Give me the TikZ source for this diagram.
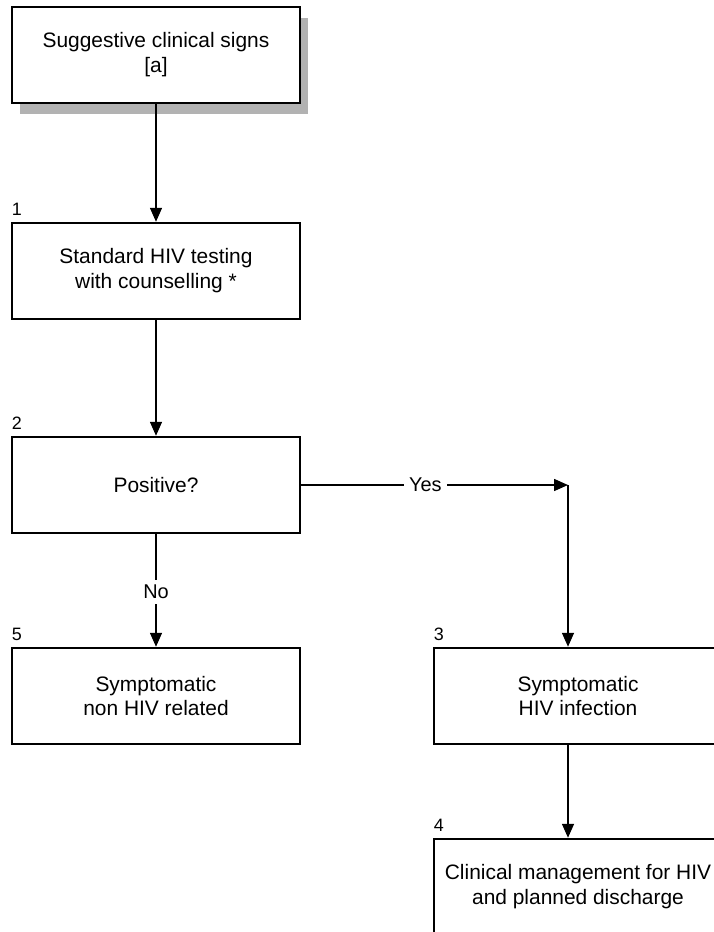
\documentclass[tikz,border=0pt]{standalone}
\usepackage{fontspec}
\setmainfont{Liberation Sans}
\usetikzlibrary{positioning, arrows.meta, shadows}
\tikzset{
    stepbox/.style={rectangle, draw=black, line width=2.5bp, fill=white, align=center, minimum width=288bp, minimum height=96bp, font=\fontsize{21}{25}\selectfont},
    arrow/.style={-{Triangle[length=14bp, width=12bp]}, line width=1.5bp},
    num/.style={anchor=south west, inner sep=0pt, font=\fontsize{18}{21}\selectfont},
    answer/.style={fill=white, inner sep=5bp, font=\fontsize{20}{24}\selectfont}
}
\begin{document}
\begin{tikzpicture}[x=1bp, y=-1bp]
        \useasboundingbox (0,0) rectangle (714,932);
        \clip (0,0) rectangle (714,932);

        % Entry point
        \node[stepbox, drop shadow={fill=black!30, opacity=1, shadow xshift=8bp, shadow yshift=-11bp}] (signs) at (156,55) {Suggestive clinical signs\\{[a]}};

        % Testing and decision
        \node[stepbox, below=117.5bp of signs] (test) {Standard HIV testing\\with counselling *};
        \node[stepbox, below=115.5bp of test] (pos) {Positive?};

        % Outcomes
        \node[stepbox, below=112.5bp of pos] (neg) {Symptomatic\\non HIV related};
        \node[stepbox, right=131.5bp of neg] (hiv) {Symptomatic\\HIV infection};
        \node[stepbox, below=92.5bp of hiv] (manage) {Clinical management for HIV\\and planned discharge};

        % Step numbers
        \node[num] (n1) at ([xshift=1bp, yshift=6bp]test.north west) {1};
        \node[num] (n2) at ([xshift=1bp, yshift=6bp]pos.north west) {2};
        \node[num] (n5) at ([xshift=1bp, yshift=6bp]neg.north west) {5};
        \node[num] (n3) at ([xshift=1bp, yshift=6bp]hiv.north west) {3};
        \node[num] (n4) at ([xshift=1bp, yshift=6bp]manage.north west) {4};

        % Connectors
        \draw[arrow] (signs) -- (test);
        \draw[arrow] (test) -- (pos);
        \draw[arrow] (pos) -- node[answer, pos=0.51] {No} (neg);
        \coordinate (turn) at ([xshift=-10bp]hiv.north |- pos.east);
        \draw[arrow] (pos) -- node[answer, pos=0.465] {Yes} (turn);
        \draw[arrow] (turn) -- (turn |- hiv.north);
        \draw[arrow] (turn |- hiv.south) -- (turn |- manage.north);
    \end{tikzpicture}
\end{document}
